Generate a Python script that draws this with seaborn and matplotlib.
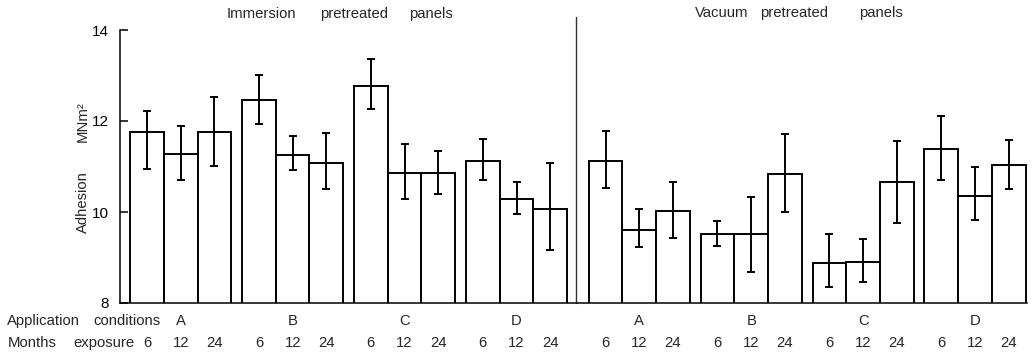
import matplotlib
matplotlib.use("Agg")
import matplotlib.pyplot as plt
import seaborn as sns
import pandas as pd
import numpy as np

# ---- data ----
conditions = ["A", "B", "C", "D"]
months = ["6", "12", "24"]
panels = ["Immersion", "Vacuum"]

immersion_mean = [11.76, 11.27, 11.76, 12.46, 11.25, 11.08, 12.77, 10.86, 10.86, 11.13, 10.29, 10.07]
immersion_low = [10.94, 10.70, 11.02, 11.93, 10.92, 10.51, 12.26, 10.29, 10.40, 10.70, 9.96, 9.17]
immersion_high = [12.23, 11.88, 12.53, 13.02, 11.66, 11.74, 13.36, 11.50, 11.33, 11.61, 10.65, 11.08]

vacuum_mean = [11.13, 9.61, 10.03, 9.52, 9.52, 10.83, 8.89, 8.91, 10.67, 11.38, 10.35, 11.04]
vacuum_low = [10.53, 9.24, 9.42, 9.26, 8.69, 10.00, 8.35, 8.46, 9.76, 10.70, 9.82, 10.51]
vacuum_high = [11.79, 10.06, 10.65, 9.80, 10.34, 11.71, 9.52, 9.40, 11.55, 12.12, 10.99, 11.58]

y_ticks = [8, 10, 12, 14]

# ---- layout ----
GROUP_STEP = 3.32
OFFSET = 0.3
PANEL_EXTRA = 0.32

rows = []
for p, (mean, low, high) in enumerate([(immersion_mean, immersion_low, immersion_high),
                                        (vacuum_mean, vacuum_low, vacuum_high)]):
    for g, cond in enumerate(conditions):
        gi = p * 4 + g
        for m, mon in enumerate(months):
            k = g * 3 + m
            left = OFFSET + gi * GROUP_STEP + p * PANEL_EXTRA + m
            rows.append(dict(panel=panels[p], cond=cond, month=mon, pos=left + 0.5,
                             mean=mean[k], low=low[k], high=high[k]))
df = pd.DataFrame(rows)

sns.set_style("white")
plt.rcParams["font.family"] = ["Liberation Sans", "DejaVu Sans"]

fig = plt.figure(figsize=(10.32, 3.57), dpi=100)
W, H = 1032, 357
ax = fig.add_axes([120 / W, 1 - 303 / H, (1027 - 120) / W, (303 - 30) / H])

sns.barplot(data=df, x="pos", y="mean", native_scale=True, orient="x", width=1.0,
            color="white", saturation=1, edgecolor="black", linewidth=1.4,
            errorbar=None, ax=ax)

ax.errorbar(df["pos"], df["mean"],
            yerr=[df["mean"] - df["low"], df["high"] - df["mean"]],
            fmt="none", ecolor="black", elinewidth=1.4, capsize=2.6, capthick=1.4)

ax.set_xlim(0, 26.9)
ax.set_ylim(8, 14)
ax.set_yticks(y_ticks)
ax.set_yticklabels([str(t) for t in y_ticks], fontsize=11)
ax.tick_params(axis="y", direction="in", length=6, width=1.1, pad=8, left=True, colors="black")
ax.set_xticks([])
ax.set_xlabel("")
ax.set_ylabel("")
for s in ["top", "right"]:
    ax.spines[s].set_visible(False)
for s in ["left", "bottom"]:
    ax.spines[s].set_color("black")
    ax.spines[s].set_linewidth(1.1)

# divider between panels
xdiv = OFFSET + 4 * GROUP_STEP - 0.32 + PANEL_EXTRA / 2 + 0.1
ax.plot([xdiv, xdiv], [8, 14.29], color="#333333", lw=1.0, clip_on=False)

# bottom labels
xt = ax.get_xaxis_transform()
fs = 10.7
for (p, cond), sub in df.groupby(["panel", "cond"], sort=False):
    ax.text(sub["pos"].mean(), -0.066, cond, transform=xt, ha="center", va="center", fontsize=fs)
for _, r in df.iterrows():
    ax.text(r["pos"], -0.147, r["month"], transform=xt, ha="center", va="center", fontsize=fs)

fig.text(7 / W, 1 - 321 / H, "Application", ha="left", va="center", fontsize=fs)
fig.text(93 / W, 1 - 321 / H, "conditions", ha="left", va="center", fontsize=fs)
fig.text(8 / W, 1 - 343 / H, "Months", ha="left", va="center", fontsize=fs)
fig.text(73 / W, 1 - 343 / H, "exposure", ha="left", va="center", fontsize=fs)

# panel titles
for word, x0 in [("Immersion", 227), ("pretreated", 320), ("panels", 409)]:
    fig.text(x0 / W, 1 - 14 / H, word, ha="left", va="center", fontsize=fs)
for word, x0 in [("Vacuum", 695), ("pretreated", 760), ("panels", 859)]:
    fig.text(x0 / W, 1 - 13 / H, word, ha="left", va="center", fontsize=fs)

# y label
fig.text(83 / W, 1 - 202 / H, "Adhesion", rotation=90, ha="center", va="center", fontsize=fs)
fig.text(83 / W, 1 - 122 / H, "MNm²", rotation=90, ha="center", va="center", fontsize=fs)

fig.savefig("out.png", dpi=100)
